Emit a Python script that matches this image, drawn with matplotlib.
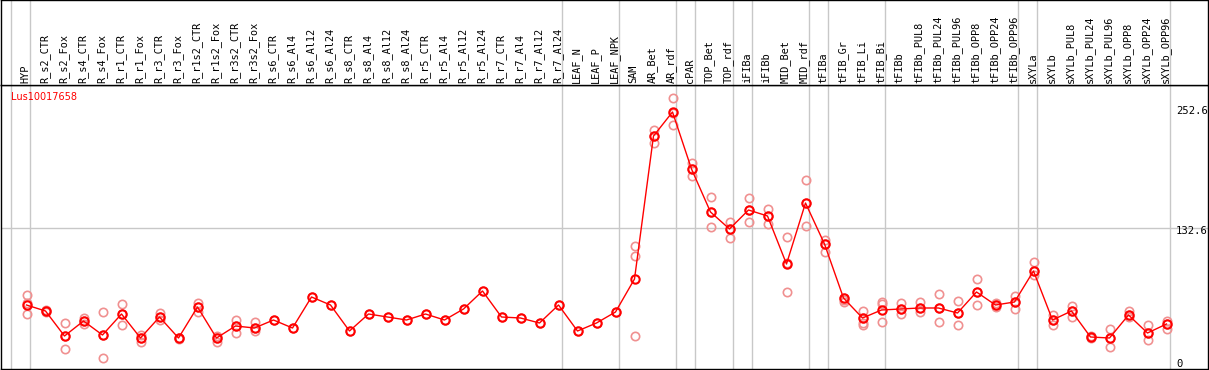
import matplotlib
matplotlib.use('Agg')
import matplotlib.pyplot as plt
import matplotlib.transforms as mtransforms
import numpy as np

####################################################################################################

gene = 'Lus10017658'

samples = [
    'HYP',
    'R_s2_CTR', 'R_s2_Fox', 'R_s4_CTR', 'R_s4_Fox',
    'R_r1_CTR', 'R_r1_Fox', 'R_r3_CTR', 'R_r3_Fox',
    'R_r1s2_CTR', 'R_r1s2_Fox', 'R_r3s2_CTR', 'R_r3s2_Fox',
    'R_s6_CTR', 'R_s6_Al4', 'R_s6_Al12', 'R_s6_Al24',
    'R_s8_CTR', 'R_s8_Al4', 'R_s8_Al12', 'R_s8_Al24',
    'R_r5_CTR', 'R_r5_Al4', 'R_r5_Al12', 'R_r5_Al24',
    'R_r7_CTR', 'R_r7_Al4', 'R_r7_Al12', 'R_r7_Al24',
    'LEAF_N', 'LEAF_P', 'LEAF_NPK',
    'SAM', 'AR_Bet', 'AR_rdf',
    'cPAR',
    'TOP_Bet', 'TOP_rdf',
    'iFIBa',
    'iFIBb', 'MID_Bet', 'MID_rdf',
    'tFIBa',
    'tFIB_Gr', 'tFIB_Li', 'tFIB_Bi',
    'tFIBb', 'tFIBb_PUL8', 'tFIBb_PUL24', 'tFIBb_PUL96', 'tFIBb_OPP8', 'tFIBb_OPP24', 'tFIBb_OPP96',
    'sXYLa',
    'sXYLb', 'sXYLb_PUL8', 'sXYLb_PUL24', 'sXYLb_PUL96', 'sXYLb_OPP8', 'sXYLb_OPP24', 'sXYLb_OPP96',
]

mean_values = [
    56,
    50, 25, 40, 26,
    47, 23, 44, 23,
    54, 23, 35, 33,
    41, 33, 64, 56,
    30, 47, 44, 41,
    47, 41, 52, 70,
    44, 43, 38, 56,
    30, 38, 49,
    82, 225, 249,
    192,
    149, 132,
    151,
    145, 97, 158,
    117,
    63, 43, 51,
    52, 53, 53, 48, 69, 56, 59,
    90,
    41, 50, 24, 23, 46, 28, 37,
]

# replicates, one list per sample
replicate_values = [
    [66, 58, 47],
    [51, 50, 49], [38, 25, 12], [43, 40, 37], [49, 26, 3],
    [57, 47, 36], [26, 23, 19], [48, 44, 41], [23, 22, 23],
    [58, 54, 49], [25, 23, 19], [41, 35, 28], [39, 33, 30],
    [41], [33], [64], [56],
    [30], [47], [44], [41],
    [47], [41], [52], [70],
    [44], [43], [38], [56],
    [30], [38], [49],
    [115, 105, 25], [231, 225, 218], [263, 248, 236],
    [198, 192, 185],
    [164, 149, 134], [139, 132, 123],
    [163, 151, 139],
    [152, 145, 137], [124, 98, 69], [181, 158, 135],
    [121, 117, 109],
    [63, 59, 61], [50, 43, 38, 36], [59, 57, 39],
    [58, 52, 47], [59, 53, 49], [67, 53, 39], [60, 48, 36], [82, 69, 56], [58, 56, 54], [65, 59, 52],
    [99, 90, 86],
    [46, 41, 36], [55, 50, 44], [25, 24, 23], [32, 23, 14], [50, 46, 44], [36, 28, 21], [40, 37, 32],
]

# group separators: drawn just right of these sample indexes
group_ends = [-1, 0, 28, 31, 34, 35, 37, 38, 41, 42, 45, 52, 53, 60]

y_ticks = [0, 132.6, 252.6]

####################################################################################################

W, H = 1209, 370
figure = plt.figure(figsize=(W / 100, H / 100), dpi=100)

def px_rect(left, top, right, bottom):
    return [left / W, 1 - bottom / H, (right - left) / W, (bottom - top) / H]

ax = figure.add_axes(px_rect(1, 85, 1208, 369))
header = figure.add_axes(px_rect(1, 0, 1208, 85), sharex=ax)

x = np.arange(len(samples))
x_min, x_max = (1 - 26.5) / 19, (1208 - 26.5) / 19
ax.set_xlim(x_min, x_max)
ax.set_ylim(-8, 276)
header.set_ylim(0, 1)

grey = '#c8c8c8'
for _ in group_ends:
    for a in (ax, header):
        a.axvline(_ + 3.5 / 19, color=grey, lw=1, zorder=0)
ax.axhline(132.6, color=grey, lw=1, zorder=0)

# replicates
for i, values in enumerate(replicate_values):
    ax.plot([i] * len(values), values, 'o', ms=6, mfc='none', mec='#f09090', mew=1.2, zorder=2)

# means
ax.plot(x, mean_values, '-', color='red', lw=1, zorder=3)
ax.plot(x, mean_values, 'o', ms=6, mfc='none', mec='red', mew=1.5, zorder=4)

ax.text(10 / 1207, 1 - 12 / 284, gene, transform=ax.transAxes, color='red', fontsize=7,
        family='DejaVu Sans', ha='left', va='center')

# value labels, left aligned near the right border
trans = mtransforms.blended_transform_factory(ax.transAxes, ax.transData)
for value in y_ticks:
    label = '0' if value == 0 else f'{value:.1f}'
    ax.annotate(label, ((1176 - 1) / 1207, value), xycoords=trans, xytext=(0, 2),
                textcoords='offset pixels', ha='left', va='top', fontsize=7.6,
                family='DejaVu Sans Mono')

for i, label in enumerate(samples):
    header.annotate(label, (i, 0), xycoords=('data', 'axes fraction'), xytext=(-1, 2),
                    textcoords='offset pixels', rotation=90, ha='center', va='bottom',
                    fontsize=7.4, family='DejaVu Sans Mono')

for a in (ax, header):
    a.set_xticks([])
    a.set_yticks([])
    for spine in a.spines.values():
        spine.set_color('black')
        spine.set_linewidth(1)

figure.savefig('out.png', dpi=100)
